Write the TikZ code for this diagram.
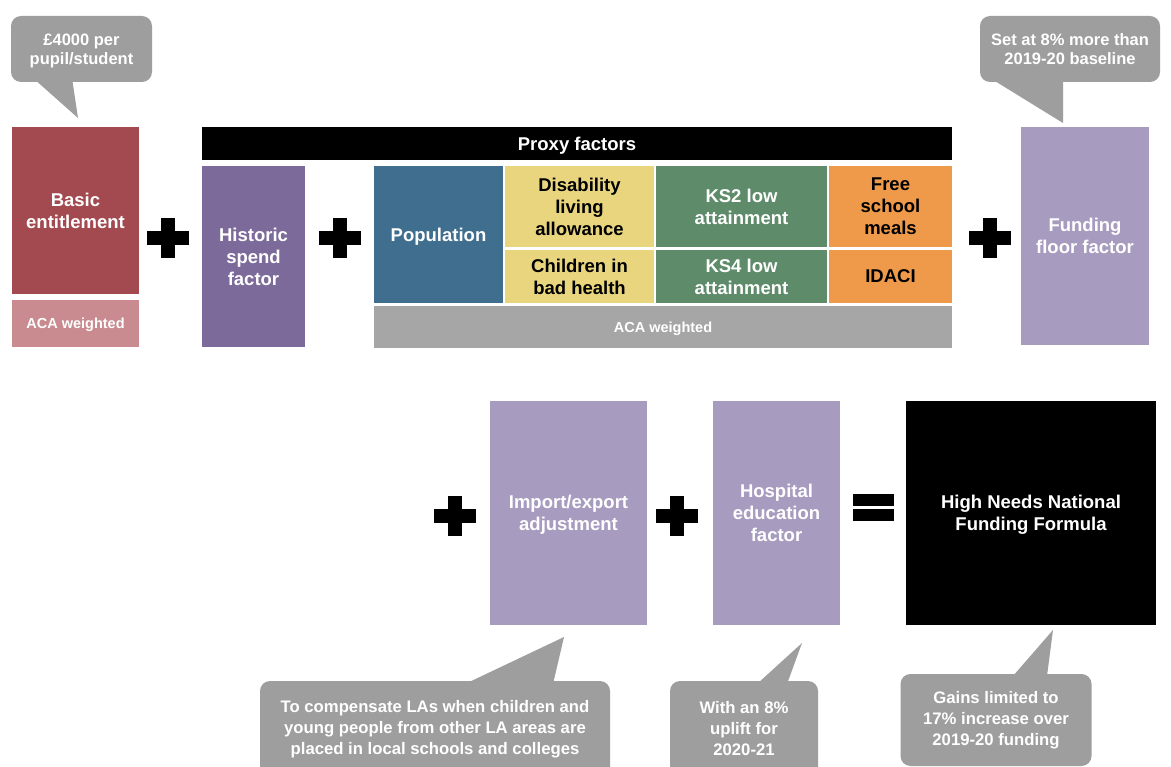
\documentclass[tikz,border=0pt]{standalone}
\usepackage{fontspec}
\setmainfont{Liberation Sans}
\definecolor{basicred}{HTML}{A24A50}
\definecolor{basicaca}{HTML}{C98B8F}
\definecolor{historic}{HTML}{7C6A9A}
\definecolor{popblue}{HTML}{3F6E8E}
\definecolor{yellowc}{HTML}{E8D57E}
\definecolor{greenc}{HTML}{5E8C6A}
\definecolor{orangec}{HTML}{EE9A4A}
\definecolor{acagrey}{HTML}{A6A6A6}
\definecolor{lilac}{HTML}{A79CBF}
\definecolor{callgrey}{HTML}{9E9E9E}
\tikzset{
  blk/.style={inner sep=0pt, outer sep=0pt, align=center, text=white, text depth=0pt,
    font=\bfseries\fontsize{18.5}{22}\selectfont},
  darktext/.style={text=black},
  smalltext/.style={font=\bfseries\fontsize{14.5}{17}\selectfont},
  callout/.style={fill=callgrey, rounded corners=10pt, inner sep=0pt, align=center,
    text=white, font=\bfseries\fontsize{16.7}{21}\selectfont},
  topcallout/.style={callout, text depth=0pt, font=\bfseries\fontsize{16.5}{19.5}\selectfont},
  calltail/.style={fill=callgrey},
  signfill/.style={fill=black},
}
% name, x1, y1, x2, y2, style, text
\newcommand\rbox[7]{\node[blk,#6, minimum width={#4-#2}, minimum height={#5-#3}] (#1) at ({(#2+#4)/2},{(#3+#5)/2}) {#7};}
\newcommand\plusmark[2]{\fill[signfill] (#1-21,#2-7) rectangle (#1+21,#2+7); \fill[signfill] (#1-7,#2-20) rectangle (#1+7,#2+20);}
\begin{document}
\begin{tikzpicture}[x=1pt,y=-1pt]
\useasboundingbox[fill=white] (0,0) rectangle (1171,767);

% ---- top row ----
\rbox{basic}{12}{127}{139}{294}{fill=basicred}{Basic\\entitlement}
\rbox{basicaca}{12}{300}{139}{347}{fill=basicaca,smalltext}{ACA weighted}
\plusmark{168}{238}
\rbox{proxy}{202}{127}{952}{160}{fill=black}{Proxy factors}
\rbox{historic}{202}{166}{305}{347}{fill=historic}{Historic\\spend\\factor}
\plusmark{340}{238}
\rbox{pop}{374}{166}{503}{303}{fill=popblue}{Population}
\rbox{dla}{505}{166}{654}{247}{fill=yellowc,darktext}{Disability\\living\\allowance}
\rbox{cbh}{505}{250}{654}{303}{fill=yellowc,darktext}{Children in\\bad health}
\rbox{ks2}{656}{166}{827}{247}{fill=greenc}{KS2 low\\attainment}
\rbox{ks4}{656}{250}{827}{303}{fill=greenc}{KS4 low\\attainment}
\rbox{fsm}{829}{166}{952}{247}{fill=orangec,darktext}{Free\\school\\meals}
\rbox{idaci}{829}{250}{952}{303}{fill=orangec,darktext}{IDACI}
\rbox{proxyaca}{374}{306}{952}{348}{fill=acagrey,smalltext}{ACA weighted}
\plusmark{990}{238}
\rbox{floor}{1021}{127}{1149}{345}{fill=lilac}{Funding\\floor factor}

% top callouts
\node[topcallout, minimum width=141, minimum height=66] (c1) at (81.5,49) {£4000 per\\pupil/student};
\coordinate (t1) at (78,118);
\fill[calltail] (33,78) -- (t1) -- (72,78) -- cycle;
\node[topcallout, minimum width=180, minimum height=66] (c2) at (1070,49) {Set at 8\% more than\\2019-20 baseline};
\coordinate (t2) at (1063,123);
\fill[calltail] (990,78) -- (t2) -- (1063,78) -- cycle;

% ---- bottom row ----
\plusmark{455}{516}
\rbox{import}{490}{401}{647}{625}{fill=lilac}{Import/export\\adjustment}
\plusmark{677}{516}
\rbox{hosp}{713}{401}{840}{625}{fill=lilac}{Hospital\\education\\factor}
\fill[signfill] (853,494) rectangle (894,506);
\fill[signfill] (853,509) rectangle (894,521);
\rbox{hnnff}{906}{401}{1156}{625}{fill=black}{High Needs National\\Funding Formula}

% bottom callouts
\node[callout, minimum width=350, minimum height=96] (c3) at (435,729) {To compensate LAs when children and\\young people from other LA areas are\\placed in local schools and colleges};
\coordinate (t3) at (564,637);
\fill[calltail] (465,684) -- (t3) -- (553,684) -- cycle;
\node[callout, minimum width=148, minimum height=96] (c4) at (744,729) {With an 8\%\\uplift for\\2020-21};
\coordinate (t4) at (802,643);
\fill[calltail] (757,684) -- (t4) -- (787,684) -- cycle;
\node[callout, minimum width=191, minimum height=92] (c5) at (996,720) {Gains limited to\\17\% increase over\\2019-20 funding};
\coordinate (t5) at (1053,630);
\fill[calltail] (1013,676) -- (t5) -- (1047,676) -- cycle;
\end{tikzpicture}
\end{document}
